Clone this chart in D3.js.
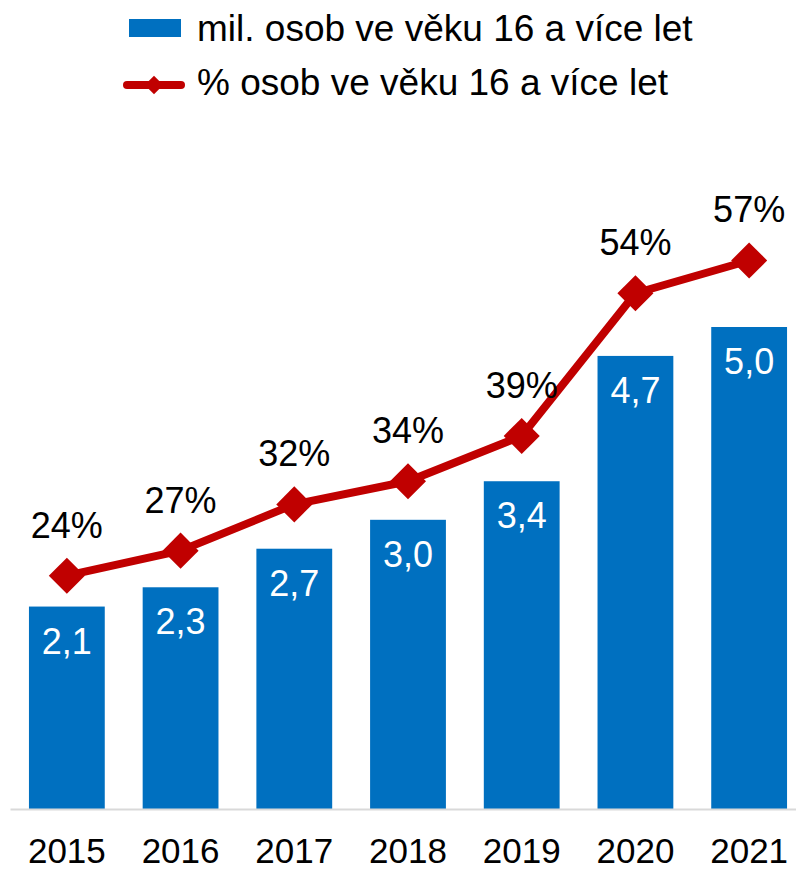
<!DOCTYPE html>
<html>
<head>
<meta charset="utf-8">
<script src="https://cdn.jsdelivr.net/npm/d3@7"></script>
<style>
	body { margin: 0; background: #fff; }
	svg { display: block; font-family: "Liberation Sans", Arial, sans-serif; }
</style>
</head>
<body>
<svg id="chart" width="796" height="870"></svg>
<script>
// data
const years = ['2015', '2016', '2017', '2018', '2019', '2020', '2021']
const millions = [2.1, 2.3, 2.7, 3.0, 3.4, 4.7, 5.0]     // mil. osob
const percents = [24.2, 26.8, 31.6, 34.0, 38.7, 53.5, 56.9] // % osob
const legendLabels = ['mil. osob ve věku 16 a více let', '% osob ve věku 16 a více let']

const barColor = '#0070C0',
	lineColor = '#C00000'

const svg = d3.select('#chart')
const baseY = 809, topY = 230.6

const x = d3.scaleBand()
	.domain(years)
	.range([10, 806])
	.paddingInner(1 / 3)
	.paddingOuter(1 / 6)
const yBar = d3.scaleLinear().domain([0, 6]).range([baseY, topY])
const yPct = d3.scaleLinear().domain([0, 60]).range([baseY, topY])

const fmtComma = d => d.toFixed(1).replace('.', ',')

// bars
svg.append('g').selectAll('rect')
	.data(millions)
	.join('rect')
	.attr('x', (d, i) => x(years[i]))
	.attr('y', d => yBar(d))
	.attr('width', x.bandwidth())
	.attr('height', d => baseY - yBar(d))
	.attr('fill', barColor)

// bar labels (inside end)
svg.append('g').selectAll('text')
	.data(millions)
	.join('text')
	.attr('x', (d, i) => x(years[i]) + x.bandwidth() / 2)
	.attr('y', d => yBar(d) + 47)
	.attr('text-anchor', 'middle')
	.attr('font-size', 36)
	.attr('fill', '#fff')
	.text(fmtComma)

// x axis
const axis = svg.append('g')
	.attr('transform', `translate(0,${baseY})`)
	.call(d3.axisBottom(x).tickSize(0).tickSizeOuter(0))
axis.select('.domain').attr('stroke', '#d9d9d9').attr('stroke-width', 2)
axis.selectAll('text')
	.attr('dy', null)
	.attr('y', 54)
	.attr('font-size', 35)
	.attr('font-family', '"Liberation Sans", Arial, sans-serif')
	.attr('fill', '#000')

// percent line
const cx = (d, i) => x(years[i]) + x.bandwidth() / 2
const line = d3.line()
	.x(cx)
	.y(d => yPct(d))
svg.append('path')
	.datum(percents)
	.attr('d', line)
	.attr('fill', 'none')
	.attr('stroke', lineColor)
	.attr('stroke-width', 8)
	.attr('stroke-linejoin', 'round')

const diamond = d3.symbol().type(d3.symbolSquare).size(650)
svg.append('g').selectAll('path')
	.data(percents)
	.join('path')
	.attr('d', diamond)
	.attr('transform', (d, i) => `translate(${cx(d, i)},${yPct(d)}) rotate(45)`)
	.attr('fill', lineColor)

svg.append('g').selectAll('text')
	.data(percents)
	.join('text')
	.attr('x', cx)
	.attr('y', d => yPct(d) - 38)
	.attr('text-anchor', 'middle')
	.attr('font-size', 36)
	.attr('fill', '#000')
	.text(d => Math.round(d) + '%')

// legend
const legend = svg.append('g')
legend.append('rect')
	.attr('x', 129).attr('y', 19)
	.attr('width', 52).attr('height', 18)
	.attr('fill', barColor)
legend.append('line')
	.attr('x1', 127).attr('x2', 181)
	.attr('y1', 85).attr('y2', 85)
	.attr('stroke', lineColor)
	.attr('stroke-width', 8)
	.attr('stroke-linecap', 'round')
legend.append('path')
	.attr('d', d3.symbol().type(d3.symbolSquare).size(170))
	.attr('transform', 'translate(154,85) rotate(45)')
	.attr('fill', lineColor)
legend.selectAll('text.lg')
	.data(legendLabels)
	.join('text')
	.attr('class', 'lg')
	.attr('x', 197)
	.attr('y', (d, i) => 41 + i * 54)
	.attr('font-size', 37)
	.attr('fill', '#000')
	.text(d => d)
</script>
</body>
</html>
